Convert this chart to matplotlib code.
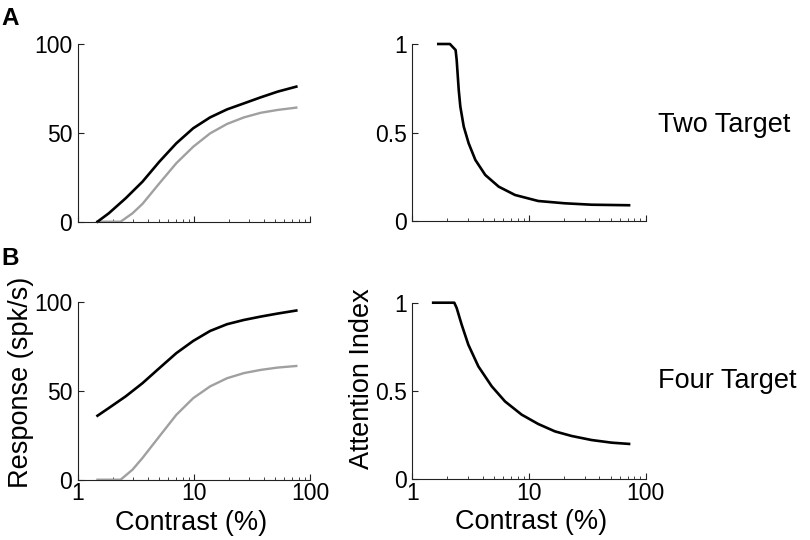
import numpy as np
import matplotlib
matplotlib.use('Agg')
import matplotlib.pyplot as plt
from matplotlib.ticker import FixedLocator, NullFormatter

plt.rcParams['font.family'] = ['Liberation Sans', 'DejaVu Sans']

# contrast values (%)
contrast_att = [1.48, 1.85, 2.59, 3.61, 5.05, 7.06, 9.88, 13.8, 19.3, 27.0, 37.7, 52.7, 76.2]
contrast_unatt = [1.48, 2.34, 2.96, 3.61, 5.05, 7.06, 9.88, 13.8, 19.3, 27.0, 37.7, 52.7, 76.2]

# two target responses (spk/s)
two_att = [0, 4.7, 13.2, 22.5, 33.8, 44.1, 52.6, 58.7, 63.2, 66.6, 70.0, 73.2, 76.0]
two_unatt = [0, 0, 4.7, 10.0, 21.6, 32.9, 42.2, 49.7, 55.0, 58.7, 61.3, 62.9, 64.2]

# four target responses (spk/s)
four_att = [36.0, 40.3, 46.9, 54.3, 62.8, 71.2, 78.1, 83.7, 87.5, 89.9, 91.8, 93.5, 95.2]
four_unatt = [0, 0, 5.6, 12.2, 24.4, 36.5, 45.9, 52.5, 57.1, 60.0, 61.8, 63.1, 64.0]

# attention index
ai_two_c = [1.67, 2.10, 2.35, 2.40, 2.50, 2.58, 2.76, 3.04, 3.47, 4.22, 5.50, 7.59, 12.0, 20.3, 34.4, 72]
ai_two = [1, 1, 0.966, 0.91, 0.74, 0.646, 0.533, 0.439, 0.345, 0.26, 0.194, 0.147, 0.113, 0.10, 0.092, 0.089]
ai_four_c = [1.51, 2.29, 2.40, 2.65, 3.02, 3.68, 4.79, 6.23, 8.65, 12.0, 16.7, 23.2, 34.4, 51.2, 72]
ai_four = [1, 1, 0.97, 0.875, 0.762, 0.639, 0.526, 0.44, 0.365, 0.312, 0.27, 0.244, 0.221, 0.206, 0.199]

x_ticks = [1, 10, 100]
x_ticklabels = ['1', '10', '100']

W, H = 810, 540
fig = plt.figure(figsize=(8.1, 5.4), dpi=100)


def make_axes(x0, y0, x1, y1):
    return fig.add_axes([x0 / W, 1 - y1 / H, (x1 - x0) / W, (y1 - y0) / H])


def style(ax, ylim, yticks, yticklabels, show_x):
    ax.set_xscale('log')
    ax.set_xlim(1, 100)
    ax.set_ylim(*ylim)
    ax.spines['top'].set_visible(False)
    ax.spines['right'].set_visible(False)
    for s in ['left', 'bottom']:
        ax.spines[s].set_linewidth(0.8)
        ax.spines[s].set_color('#222222')
    ax.xaxis.set_major_locator(FixedLocator(x_ticks))
    ax.xaxis.set_minor_locator(FixedLocator(
        [d * k for d in [1, 10] for k in range(2, 10)]))
    ax.xaxis.set_minor_formatter(NullFormatter())
    ax.set_yticks(yticks)
    ax.set_yticklabels(yticklabels)
    if show_x:
        ax.set_xticklabels(x_ticklabels)
    else:
        ax.set_xticklabels([])
    ax.tick_params(which='major', direction='in', length=4, width=0.8,
                   labelsize=16.5, pad=4, colors='#222222', labelcolor='black')
    ax.tick_params(which='minor', direction='in', length=2.5, width=0.6,
                   colors='#222222')
    ax.tick_params(axis='x', which='major', pad=2)


black = '#000000'
gray = '#a0a0a0'

# A: two target
ax1 = make_axes(77.7, 44, 310, 221.7)
ax1.plot(contrast_unatt, two_unatt, color=gray, lw=1.7, clip_on=False)
ax1.plot(contrast_att, two_att, color=black, lw=1.9, clip_on=False)
style(ax1, (0, 100), [0, 50, 100], ['0', '50', '100'], False)

ax2 = make_axes(412.3, 44, 645.7, 221)
ax2.plot(ai_two_c, ai_two, color=black, lw=1.9, clip_on=False)
style(ax2, (0, 1), [0, 0.5, 1], ['0', '0.5', '1'], False)

# B: four target
ax3 = make_axes(77.7, 302, 310, 479.7)
ax3.plot(contrast_unatt, four_unatt, color=gray, lw=1.7, clip_on=False)
ax3.plot(contrast_att, four_att, color=black, lw=1.9, clip_on=False)
style(ax3, (0, 100), [0, 50, 100], ['0', '50', '100'], True)
ax3.set_xlabel('Contrast (%)', fontsize=19.5)
ax3.xaxis.set_label_coords(0.49, -0.17)
ax3.set_ylabel('Response (spk/s)', fontsize=19.5)
ax3.yaxis.set_label_coords(-0.19, 0.55)

ax4 = make_axes(412.3, 302.7, 645.7, 479)
ax4.plot(ai_four_c, ai_four, color=black, lw=1.9, clip_on=False)
style(ax4, (0, 1), [0, 0.5, 1], ['0', '0.5', '1'], True)
ax4.set_xlabel('Contrast (%)', fontsize=19.5)
ax4.xaxis.set_label_coords(0.51, -0.17)
ax4.set_ylabel('Attention Index', fontsize=19.5)
ax4.yaxis.set_label_coords(-0.16, 0.57)

fig.text(1 / W, 1 - 25 / H, 'A', fontsize=17.5, fontweight='bold', va='baseline')
fig.text(1 / W, 1 - 265 / H, 'B', fontsize=17.5, fontweight='bold', va='baseline')
fig.text(658 / W, 1 - 132 / H, 'Two Target', fontsize=19.5, va='baseline')
fig.text(658 / W, 1 - 388 / H, 'Four Target', fontsize=19.5, va='baseline')

fig.savefig('out.png', dpi=100)
